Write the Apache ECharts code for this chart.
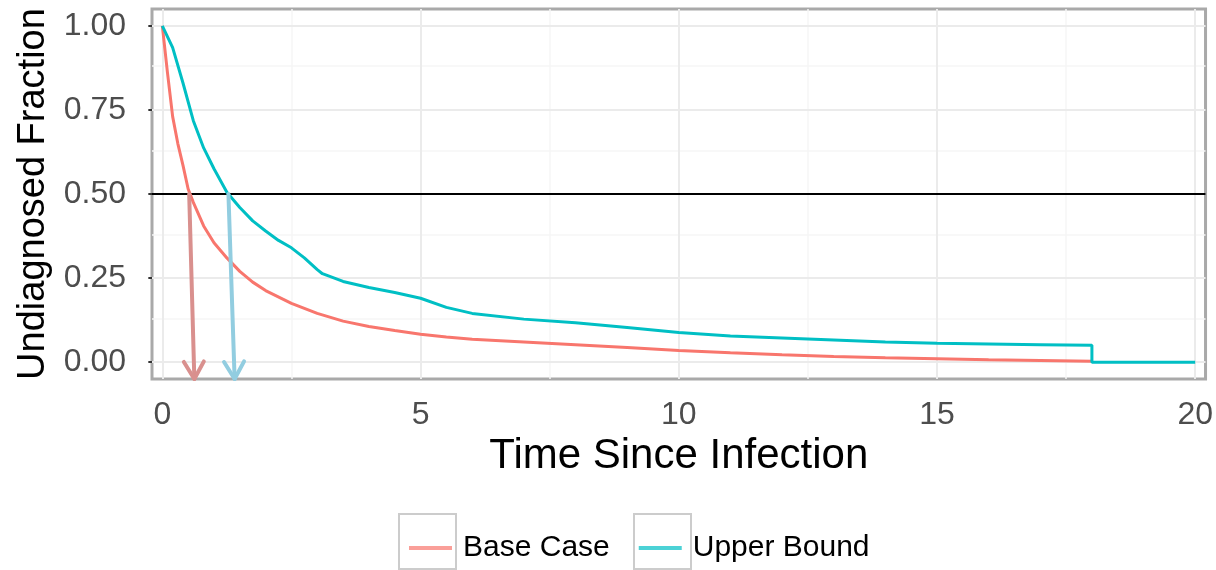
<!DOCTYPE html>
<html>
<head>
<meta charset="utf-8">
<script src="https://cdn.jsdelivr.net/npm/echarts@6/dist/echarts.min.js"></script>
<style>html,body{margin:0;padding:0;background:#fff}#c{width:1216px;height:570px}</style>
</head>
<body>
<div id="c"></div>
<script>
// ---- data ----
const seriesNames = ['Base Case', 'Upper Bound'];
const baseX = [0, 0.1, 0.2, 0.3, 0.4, 0.5, 0.6, 0.8, 1.0, 1.25, 1.5, 1.75, 2, 2.5, 3, 3.5, 4, 4.5, 5, 5.5, 6, 7, 8, 9, 10, 11, 12, 13, 14, 15, 16, 17, 18];
const baseY = [1.0, 0.86, 0.73, 0.65, 0.585, 0.515, 0.475, 0.405, 0.355, 0.31, 0.27, 0.238, 0.213, 0.175, 0.145, 0.122, 0.106, 0.094, 0.083, 0.075, 0.068, 0.06, 0.052, 0.044, 0.035, 0.028, 0.022, 0.017, 0.013, 0.01, 0.007, 0.005, 0.003];
const upperX = [0, 0.2, 0.4, 0.6, 0.8, 1.0, 1.25, 1.5, 1.75, 2, 2.25, 2.5, 2.75, 3.0, 3.1, 3.5, 4, 4.5, 5, 5.5, 6, 7, 8, 9, 10, 11, 12, 13, 14, 15, 16, 17, 18, 18, 20];
const upperY = [1.0, 0.935, 0.83, 0.718, 0.637, 0.575, 0.505, 0.46, 0.42, 0.39, 0.362, 0.34, 0.31, 0.275, 0.263, 0.24, 0.222, 0.207, 0.19, 0.163, 0.145, 0.128, 0.117, 0.103, 0.088, 0.078, 0.072, 0.066, 0.06, 0.056, 0.054, 0.052, 0.05, 0.0, 0.0];
const medianLine = 0.5;
// arrows: [xStart, yStart] -> [xEnd, yEnd]
const arrowStart = [[0.52, 0.5], [1.28, 0.5]];
const arrowEnd = [[0.62, -0.05], [1.40, -0.05]];
const xTicks = [0, 5, 10, 15, 20];
const yTicks = [0, 0.25, 0.5, 0.75, 1];
const xMinor = [2.5, 7.5, 12.5, 17.5];
const yMinor = [0.125, 0.375, 0.625, 0.875];

// ---- styles ----
const colors = ['#F8766D', '#00BFC4'];
const arrowColors = ['#D9908E', '#92CDE0'];
const FONT = 'Liberation Sans, Arial, sans-serif';

const zip = (xs, ys) => xs.map((x, i) => [x, ys[i]]);

const chart = echarts.init(document.getElementById('c'), null, {renderer: 'canvas'});

const minorStyle = {color: '#f6f6f6', width: 1.5, type: 'solid'};
const majorStyle = {color: '#ebebeb', width: 2, type: 'solid'};
const gridMarks = [].concat(
  xMinor.map(v => ({xAxis: v, lineStyle: minorStyle})),
  yMinor.map(v => ({yAxis: v, lineStyle: minorStyle})),
  xTicks.map(v => ({xAxis: v, lineStyle: majorStyle})),
  yTicks.map(v => ({yAxis: v, lineStyle: majorStyle}))
);

const option = {
  animation: false,
  backgroundColor: '#fff',
  grid: {
    left: 152, top: 9, width: 1054, height: 370,
    show: true, borderColor: '#a9a9a9', borderWidth: 3, backgroundColor: 'transparent'
  },
  xAxis: {
    type: 'value', min: -0.2, max: 20.2,
    axisLine: {show: false},
    splitLine: {show: false},
    axisTick: {show: true, length: 14, customValues: xTicks, lineStyle: {color: '#333', width: 2}},
    axisLabel: {customValues: xTicks, margin: 20, fontFamily: FONT, fontSize: 32, color: '#4d4d4d'},
    name: 'Time Since Infection', nameLocation: 'middle', nameGap: 46,
    nameTextStyle: {fontFamily: FONT, fontSize: 42, color: '#000'}
  },
  yAxis: {
    type: 'value', min: -0.05, max: 1.05,
    axisLine: {show: false},
    splitLine: {show: false},
    axisTick: {show: true, length: 14, customValues: yTicks, lineStyle: {color: '#333', width: 2}},
    axisLabel: {customValues: yTicks, margin: 26, fontFamily: FONT, fontSize: 32, color: '#4d4d4d',
      formatter: v => v.toFixed(2)},
    name: 'Undiagnosed Fraction', nameLocation: 'middle', nameGap: 98,
    nameTextStyle: {fontFamily: FONT, fontSize: 38, color: '#000'}
  },
  legend: {
    data: seriesNames,
    left: 404, top: 528,
    icon: 'rect', itemWidth: 43, itemHeight: 4, itemGap: 29,
    itemStyle: {opacity: 0.7},
    textStyle: {fontFamily: FONT, fontSize: 30, color: '#000', padding: [0, 0, 0, 6]},
    selectedMode: false
  },
  graphic: [
    {type: 'rect', left: 398, top: 513, shape: {width: 57, height: 55}, style: {fill: '#fff', stroke: '#cccccc', lineWidth: 2}, z: -1},
    {type: 'rect', left: 633, top: 513, shape: {width: 57, height: 55}, style: {fill: '#fff', stroke: '#cccccc', lineWidth: 2}, z: -1}
  ],
  series: [
    {
      name: 'grid', type: 'line', data: [], z: 1, silent: true,
      markLine: {z: 1, silent: true, symbol: ['none', 'none'], label: {show: false}, animation: false,
        emphasis: {disabled: true}, data: gridMarks}
    },
    {
      name: 'ref', type: 'line', data: [], z: 2, silent: true,
      markLine: {z: 2, silent: true, symbol: ['none', 'none'], label: {show: false}, animation: false,
        emphasis: {disabled: true},
        data: [{yAxis: medianLine, lineStyle: {color: '#000', width: 2, type: 'solid'}}]}
    },
    {
      name: seriesNames[0], type: 'line', data: zip(baseX, baseY), z: 3,
      showSymbol: false, color: colors[0], lineStyle: {width: 3, color: colors[0]}
    },
    {
      name: seriesNames[1], type: 'line', data: zip(upperX, upperY), z: 3,
      showSymbol: false, color: colors[1], lineStyle: {width: 3, color: colors[1]}
    },
    {
      name: 'arrows', type: 'custom', z: 4, silent: true,
      data: arrowStart.map((s, i) => [s[0], s[1], arrowEnd[i][0], arrowEnd[i][1]]),
      encode: {x: [0, 2], y: [1, 3]},
      renderItem: function (params, api) {
        const i = params.dataIndex;
        const p0 = api.coord([api.value(0), api.value(1)]);
        const p1 = api.coord([api.value(2), api.value(3)]);
        const ang = Math.atan2(p1[1] - p0[1], p1[0] - p0[0]);
        const L = 20, a = Math.PI / 6;
        const h1 = [p1[0] - L * Math.cos(ang - a), p1[1] - L * Math.sin(ang - a)];
        const h2 = [p1[0] - L * Math.cos(ang + a), p1[1] - L * Math.sin(ang + a)];
        const st = {stroke: arrowColors[i], lineWidth: 4, fill: null, lineCap: 'round', lineJoin: 'round'};
        return {
          type: 'group',
          children: [
            {type: 'polyline', shape: {points: [p0, p1]}, style: st},
            {type: 'polyline', shape: {points: [h1, p1, h2]}, style: st}
          ]
        };
      }
    }
  ]
};
chart.setOption(option);
</script>
</body>
</html>
